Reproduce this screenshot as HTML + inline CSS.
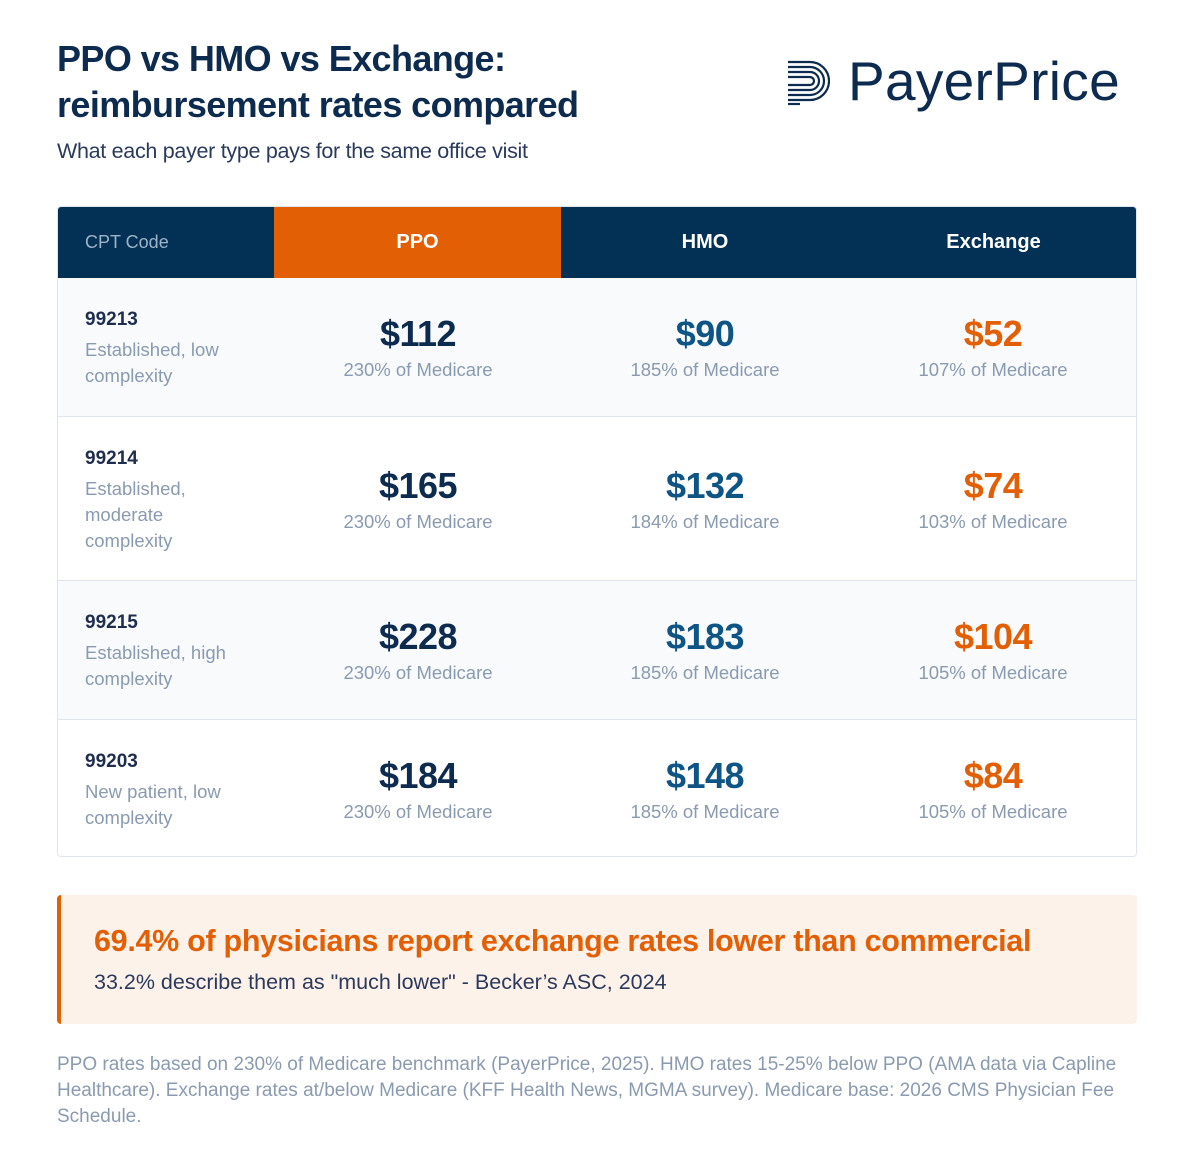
<!DOCTYPE html>
<html><head><meta charset="utf-8"><style>
*{margin:0;padding:0;box-sizing:border-box}
body{width:1200px;height:1153px;background:#fff;font-family:"Liberation Sans",sans-serif;position:relative;overflow:hidden;color:#0d2b4e}
.a{position:absolute}
.title{left:57px;top:36px;font-size:36px;font-weight:bold;line-height:46px;letter-spacing:-0.6px;color:#0d2b4e}
.sub{left:57px;top:139px;font-size:21.5px;color:#2b3a5c;letter-spacing:-0.3px}
.tbl{left:57px;top:206px;width:1080px;height:651px;border:1px solid #dfe5ec;border-radius:4px;overflow:hidden}
.hd{position:absolute;top:0;height:71px;display:flex;align-items:center;justify-content:center;color:#fff;font-weight:bold;font-size:20px}
.row{position:absolute;left:0;width:1080px;border-top:1px solid #dfe5ec}
.code{position:absolute;left:27px;font-size:19px;font-weight:bold;color:#1f2d4f}
.desc{position:absolute;left:27px;font-size:18.5px;color:#8a9ab0;line-height:26px;width:165px}
.cell{position:absolute;width:288px;text-align:center}
.amt{font-size:36px;font-weight:bold;letter-spacing:-0.5px;line-height:40px}
.pct{font-size:18.5px;color:#8a9ab0;margin-top:5px}
</style></head><body>
<div class="a title">PPO vs HMO vs Exchange:<br>reimbursement rates compared</div>
<div class="a sub">What each payer type pays for the same office visit</div>
<div class="a" style="left:788px;top:58px;width:360px;height:50px">
<svg width="42" height="46" viewBox="0 0 42 46" style="position:absolute;left:0;top:2px">
<g fill="none" stroke="#0d2b4e" stroke-width="2.2">
<path d="M0 2H22a19 19 0 0 1 0 38H0"/><path d="M0 7H22a14 14 0 0 1 0 28H0"/><path d="M0 12H22a9 9 0 0 1 0 18H0"/><path d="M0 17H22a4 4 0 0 1 0 8H0"/><path d="M0 44H12"/></g></svg>
<div style="position:absolute;left:60px;top:-9px;font-size:55px;color:#0d2b4e;letter-spacing:0.3px">PayerPrice</div>
</div>
<div class="a tbl">
<div class="hd" style="left:0;width:216px;background:#033156;justify-content:flex-start;padding-left:27px;font-weight:normal;font-size:18px;color:#9fb3c8">CPT Code</div>
<div class="hd" style="left:216px;width:287px;background:#e35f05">PPO</div>
<div class="hd" style="left:503px;width:288px;background:#033156">HMO</div>
<div class="hd" style="left:791px;width:289px;background:#033156">Exchange</div>
<div id="rows"></div>
</div>
<div class="a" style="left:57px;top:895px;width:1080px;height:129px;background:#fdf2ea;border-left:4px solid #e35f05;border-radius:4px">
<div class="a" style="left:33px;top:29px;font-size:30.5px;font-weight:bold;color:#e35f05;letter-spacing:-0.3px">69.4% of physicians report exchange rates lower than commercial</div>
<div class="a" style="left:33px;top:75px;font-size:21.5px;color:#2b3a5c">33.2% describe them as "much lower" - Becker’s ASC, 2024</div>
</div>
<div class="a" style="left:57px;top:1052px;width:1080px;font-size:19px;line-height:26px;color:#8a9ab0">PPO rates based on 230% of Medicare benchmark (PayerPrice, 2025). HMO rates 15-25% below PPO (AMA data via Capline Healthcare). Exchange rates at/below Medicare (KFF Health News, MGMA survey). Medicare base: 2026 CMS Physician Fee Schedule.</div>
<script>
const codes=["99213","99214","99215","99203"];
const descs=["Established, low complexity","Established, moderate complexity","Established, high complexity","New patient, low complexity"];
const ppo=[112,165,228,184];
const hmo=[90,132,183,148];
const exch=[52,74,104,84];
const ppoPct=[230,230,230,230];
const hmoPct=[185,184,185,185];
const exchPct=[107,103,105,105];
const rowTops=[71,209,373,512];
const rowHeights=[138,164,139,138];
const root=document.getElementById('rows');
codes.forEach((c,i)=>{
 const r=document.createElement('div');
 r.className='row';
 
 
 r.style.top=rowTops[i]+'px';r.style.height=rowHeights[i]+'px';
 r.style.background=i%2==0?'#f8fafc':'#fff';
 if(i==0)r.style.borderTop='none';
 const descW=i==1?110:165;
 r.innerHTML=`<div class="code" style="top:31px">${c}</div><div class="desc" style="top:59px;width:${descW}px">${descs[i]}</div>`;
 const cols=[[ppo,ppoPct,'#0d2b4e',216,'ppo'],[hmo,hmoPct,'#0e5585',503,'hmo'],[exch,exchPct,'#e35f05',791,'exchange']];
 const top=i==1?49:36;
 cols.forEach(([v,p,col,x,n])=>{
  const d=document.createElement('div');
  d.className='cell';
  
  
  d.style.left=x+'px';d.style.top=top+'px';
  d.innerHTML=`<div class="amt" style="color:${col}">$${v[i]}</div><div class="pct">${p[i]}% of Medicare</div>`;
  r.appendChild(d);
 });
 root.appendChild(r);
});
</script>
</body></html>
